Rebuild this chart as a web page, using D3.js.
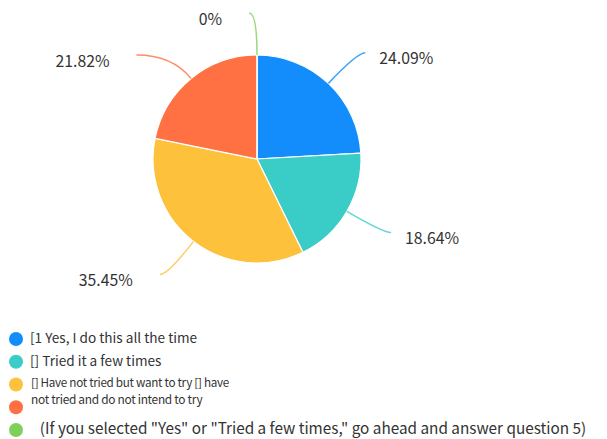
<!DOCTYPE html>
<html>
<head>
<meta charset="utf-8">
<script src="https://cdn.jsdelivr.net/npm/d3@7/dist/d3.min.js"></script>
<style>
  html, body { margin: 0; padding: 0; background: #fff; }
  svg { display: block; }
  text { font-family: "Noto Sans CJK SC", "Noto Sans", sans-serif; fill: #333; }
</style>
</head>
<body>
<svg id="chart" width="607" height="439"></svg>
<script>
// Survey answers, in pie order (clockwise from 12 o'clock)
const categories = [
  "[1 Yes, I do this all the time",
  "[] Tried it a few times",
  "[] Have not tried but want to try [] have",
  "not tried and do not intend to try",
  "\u00a0\u00a0(If you selected \"Yes\" or \"Tried a few times,\" go ahead and answer question 5)"
];
const values = [24.09, 18.64, 35.45, 21.82, 0];
const colors = ["#128dfb", "#3acdc7", "#fdc13c", "#ff7142", "#7fd05b"];

const W = 607, H = 439;
const cx = 257, cy = 159, radius = 104;
const lead1 = 42, lead2 = 8;           // radial and horizontal leader segments
const minGap = 42;                     // min vertical spacing of labels on a side

const svg = d3.select("#chart");

const pie = d3.pie().sort(null).value(d => d.value);
const arcs = pie(values.map((v, i) => ({ value: v, i })));
const arc = d3.arc().innerRadius(0).outerRadius(radius);

const g = svg.append("g").attr("transform", `translate(${cx},${cy})`);

g.selectAll("path.slice")
  .data(arcs)
  .join("path")
  .attr("class", "slice")
  .attr("d", arc)
  .attr("fill", d => colors[d.data.i])
  .attr("stroke", "#fff")
  .attr("stroke-width", 1.2);

// label layout: radial segment, then a short horizontal run
const labels = arcs.map(d => {
  const a = (d.startAngle + d.endAngle) / 2;
  const dx = Math.sin(a), dy = -Math.cos(a);
  const side = dx > 1e-9 ? 1 : -1;
  const p1 = [(radius + lead1) * dx, (radius + lead1) * dy];
  const p2 = [p1[0] + side * lead2, p1[1]];
  return { d, a, dx, dy, side, p0: [radius * dx, radius * dy], p1, p2,
           endR: Math.hypot(p2[0], p2[1]) };
});

// push labels apart vertically on each side; a pushed label keeps
// its run end on a slightly wider circle
[-1, 1].forEach(side => {
  const list = labels.filter(l => l.side === side).sort((u, v) => u.p2[1] - v.p2[1]);
  for (let k = 1; k < list.length; k++) {
    const prev = list[k - 1], cur = list[k];
    if (cur.p2[1] - prev.p2[1] < minGap) {
      const y = prev.p2[1] + minGap;
      const t = y / cur.dy;
      cur.p1 = [t * cur.dx, y];
      const R = cur.endR + lead2;
      const ex = Math.sqrt(Math.max(0, R * R - y * y));
      cur.p2 = [side * ex, y];
    }
  }
});

const line = l => {
  const p = d3.path();
  p.moveTo(l.p0[0], l.p0[1]);
  p.quadraticCurveTo(l.p1[0], l.p1[1], l.p2[0], l.p2[1]);
  return p.toString();
};

g.selectAll("path.lead")
  .data(labels)
  .join("path")
  .attr("class", "lead")
  .attr("d", line)
  .attr("fill", "none")
  .attr("stroke", l => colors[l.d.data.i])
  .attr("stroke-opacity", 0.8)
  .attr("stroke-width", 1.5);

const fmt = v => `${+v.toFixed(2)}%`;

g.selectAll("text.pct")
  .data(labels)
  .join("text")
  .attr("class", "pct")
  .attr("x", l => l.p2[0] + (l.side > 0 ? 14 : -27))
  .attr("y", l => l.p2[1] + 5)
  .attr("dominant-baseline", "central")
  .attr("text-anchor", l => l.side > 0 ? "start" : "end")
  .attr("font-size", 15.8)
  .text(l => fmt(l.d.data.value));

// legend
const rowY = d3.scaleLinear().domain([0, 4]).range([339, 430]);
const leg = svg.append("g");

leg.selectAll("circle")
  .data(categories)
  .join("circle")
  .attr("cx", 16)
  .attr("cy", (d, i) => rowY(i))
  .attr("r", 7)
  .attr("fill", (d, i) => colors[i]);

const rows = [
  { i: 0, size: 13.6, x: 30, dy: -2 },
  { i: 1, size: 13.6, x: 30, dy: -2 },
  { i: 2, size: 11.7, x: 31, dy: -3 },
  { i: 3, size: 11.9, x: 31, dy: -9 },
  { i: 4, size: 15.3, x: 33, dy: -3 }
];

leg.selectAll("text")
  .data(rows)
  .join("text")
  .attr("x", r => r.x)
  .attr("y", r => rowY(r.i) + r.dy)
  .attr("dominant-baseline", "central")
  .attr("font-size", r => r.size)
  .attr("letter-spacing", r => r.size < 12 ? "-0.3px" : null)
  .style("white-space", "pre")
  .text(r => categories[r.i]);
</script>
</body>
</html>
